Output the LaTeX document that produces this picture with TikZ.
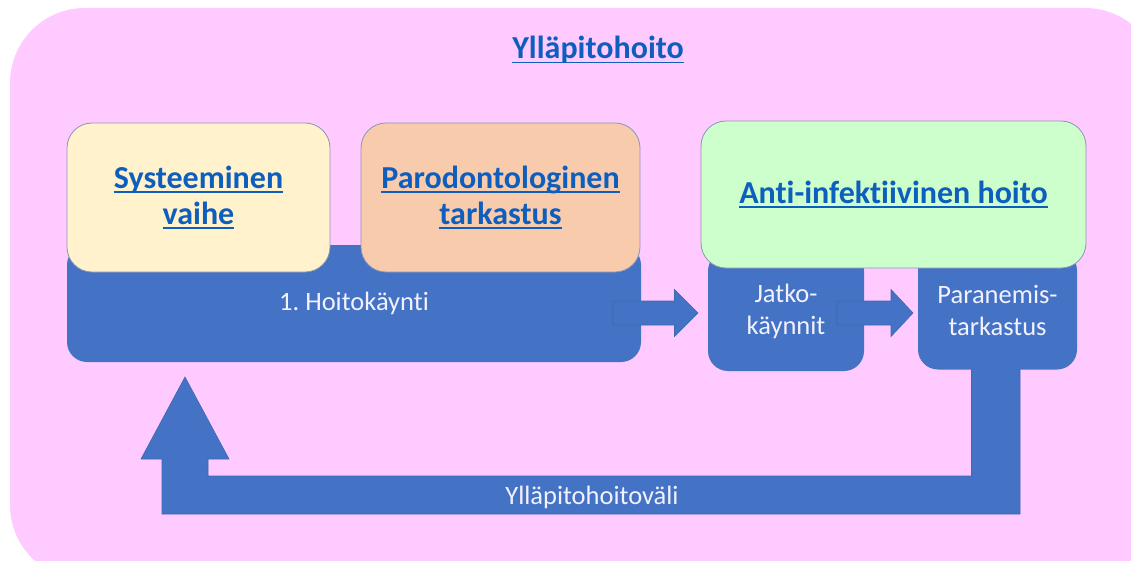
\documentclass[tikz,border=0pt]{standalone}
\usepackage{fontspec}
\setmainfont{Carlito}[Ligatures={NoCommon}]
\frenchspacing
\definecolor{bgpink}{HTML}{FFCAFF}
\definecolor{pyellow}{HTML}{FFF2CC}
\definecolor{porange}{HTML}{F8CBAD}
\definecolor{pgreen}{HTML}{CCFFCC}
\definecolor{mblue}{HTML}{4472C4}
\definecolor{medge}{HTML}{3E68B4}
\definecolor{linkblue}{HTML}{0E5EBE}
\definecolor{pedge}{HTML}{8C96B4}
\definecolor{softwhite}{HTML}{F2F2FF}
\newcommand\mylink[1]{\leavevmode\setbox0=\hbox{#1}\rlap{\color{linkblue}\rule[-4.5pt]{\wd0}{1.7pt}}\box0}
\tikzset{
  pastel/.style={draw=pedge, line width=0.8pt, rounded corners=25pt, inner sep=0pt, align=center,
    text=linkblue, font=\fontsize{32}{36}\selectfont\bfseries},
  bluebox/.style={fill=mblue, rounded corners=20pt, inner sep=0pt, align=center,
    text=softwhite, font=\fontsize{26.5}{32}\selectfont},
  blockarrow/.style={fill=mblue, draw=medge, line width=0.6pt},
}
\begin{document}
\begin{tikzpicture}[x=1pt,y=-1pt]
\useasboundingbox (0,0) rectangle (1131,561);
\fill[bgpink, rounded corners=75pt] (10,8) rectangle (1160,580);
\node[text=linkblue, font=\fontsize{32}{36}\selectfont\bfseries] (title) at (598,50) {\mylink{Ylläpitohoito}};
% return loop
\path[blockarrow] (1020,360) -- (1020,514) -- (162,514) -- (162,459) -- (141,459) -- (185,377) -- (229,459) -- (208,459) -- (208,476) -- (971.5,476) -- (971.5,360) -- cycle;
\node[text=softwhite, font=\fontsize{26.5}{30}\selectfont] (interval) at (592,497) {Ylläpitohoitoväli};
% first visit
\node[bluebox, minimum width=574pt, minimum height=117pt] (visit) at (354,303.5) {1. Hoitokäynti};
\node[pastel, fill=pyellow, minimum width=263pt, minimum height=149pt] (sys) at (198.5,197.5) {\mylink{Systeeminen}\\\mylink{vaihe}};
\node[pastel, fill=porange, minimum width=279pt, minimum height=149pt] (paro) at (500.5,197.5) {\mylink{Parodontologinen}\\\mylink{tarkastus}};
% follow-ups
\node[bluebox, minimum width=156pt, minimum height=120pt] (jatko) at (786,311) {Jatko-\\käynnit};
\node[bluebox, minimum width=159pt, minimum height=119pt] (paran) at (997.5,310) {Paranemis-\\tarkastus};
\node[pastel, fill=pgreen, minimum width=385pt, minimum height=147pt] (anti) at (893.5,194.5) {\mylink{Anti-infektiivinen hoito}};
% arrows
\path[blockarrow] (613,301) -- (674.5,301) -- (674.5,289.5) -- (698,313) -- (674.5,336.5) -- (674.5,325) -- (613,325) -- cycle;
\path[blockarrow] (837,301) -- (891,301) -- (891,289.5) -- (913,313) -- (891,336.5) -- (891,325) -- (837,325) -- cycle;
\end{tikzpicture}
\end{document}
